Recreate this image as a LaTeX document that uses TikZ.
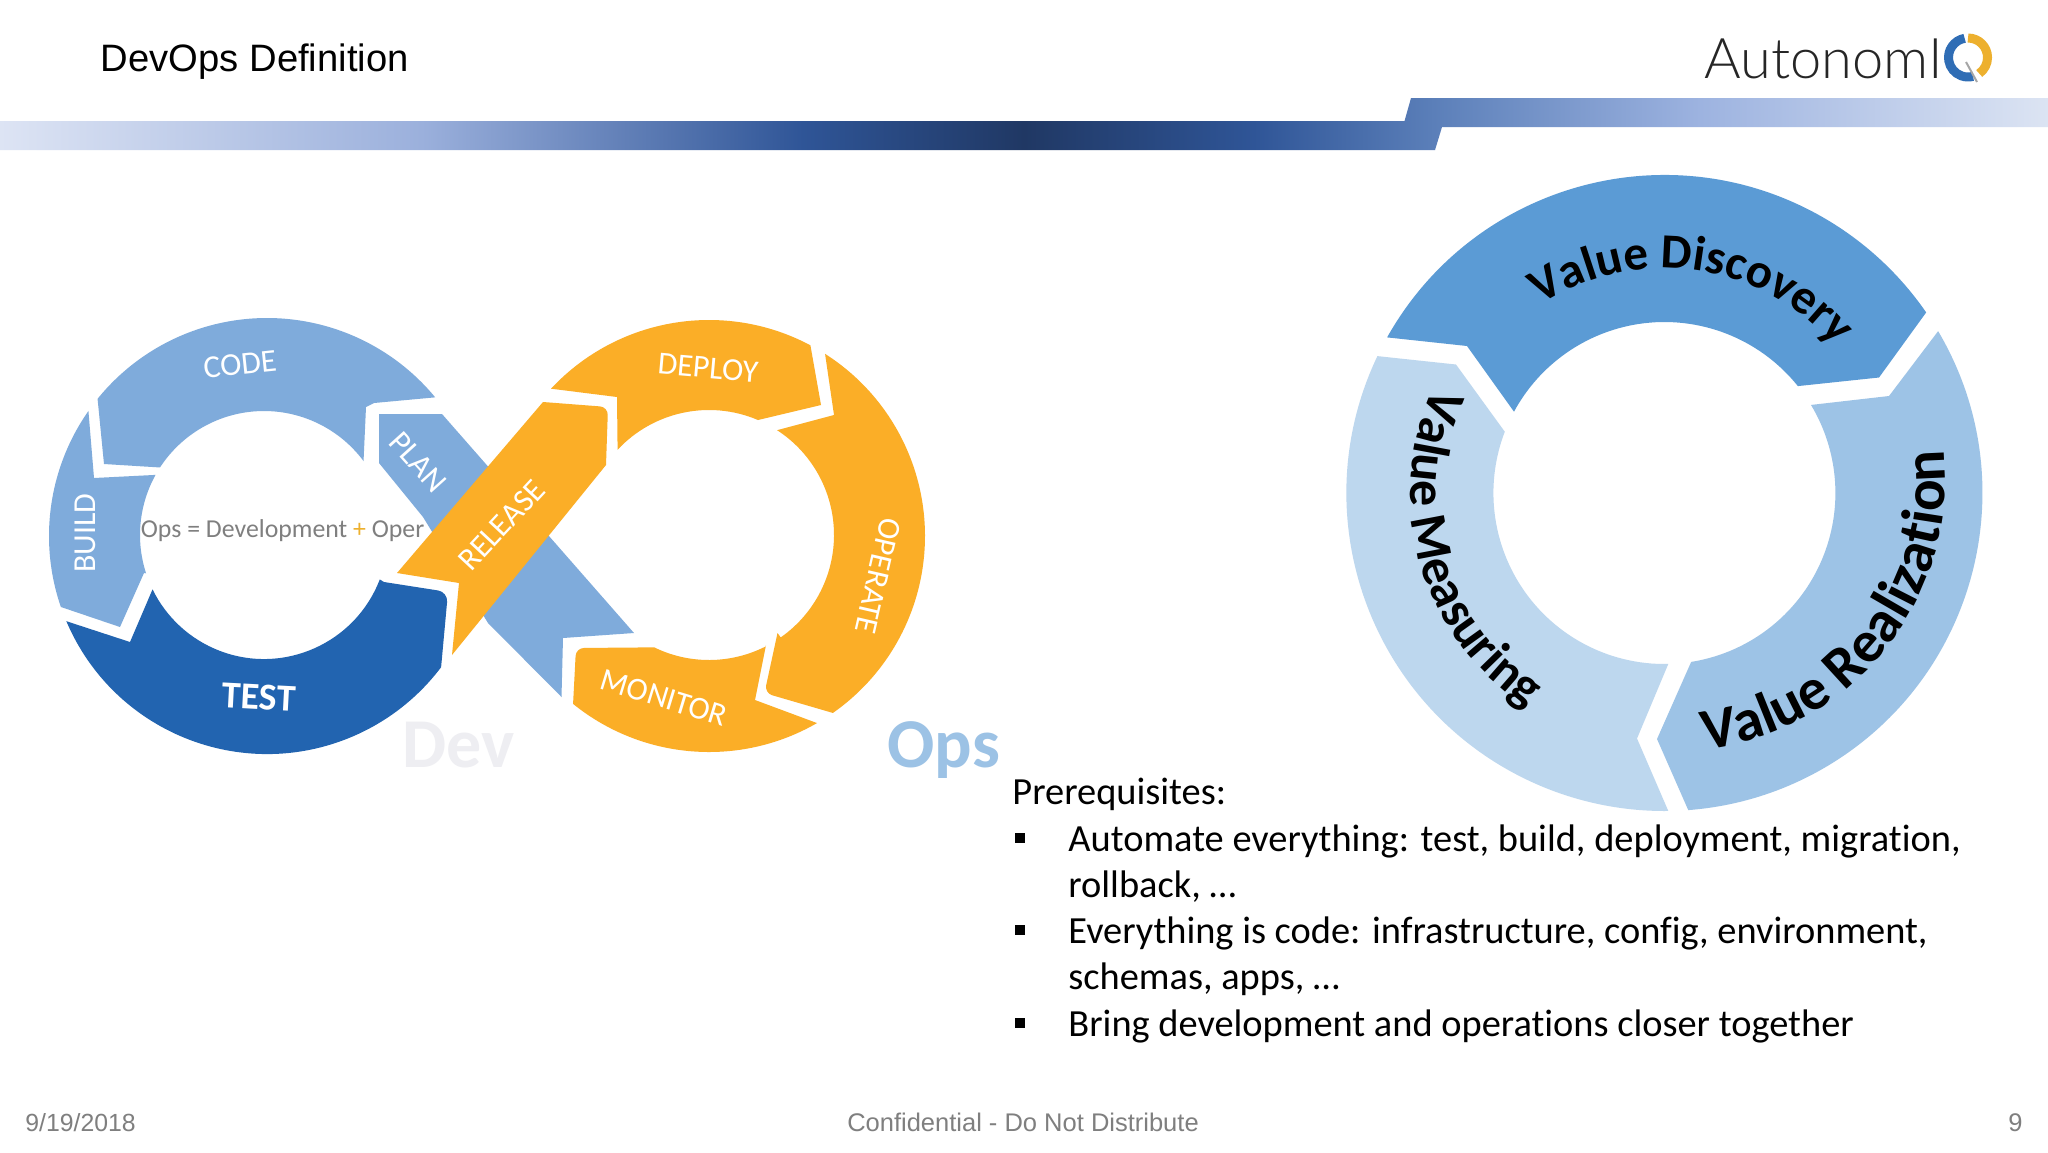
\documentclass[tikz,border=0pt]{standalone}
\usepackage{fontspec}
\setmainfont{Carlito}[Ligatures=CommonOff]
\newfontfamily\arialf{Liberation Sans}
\newfontfamily\logof{Lato Light}
\usetikzlibrary{calc,decorations.text}
\definecolor{barA}{HTML}{DDE4F4}
\definecolor{barB}{HTML}{9BB0DC}
\definecolor{barC}{HTML}{2F5597}
\definecolor{barD}{HTML}{203864}
\definecolor{barF}{HTML}{5B7FB9}
\definecolor{barG}{HTML}{9DB3E0}
\definecolor{barH}{HTML}{DCE4F3}
\definecolor{devlight}{HTML}{7FABDB}
\definecolor{devdark}{HTML}{2264B0}
\definecolor{opsorange}{HTML}{FBAE27}
\definecolor{opsblue}{HTML}{9CC2E5}
\definecolor{devgrey}{HTML}{EEEEF2}
\definecolor{ringA}{HTML}{5B9BD5}
\definecolor{ringB}{HTML}{9DC3E6}
\definecolor{ringC}{HTML}{BDD7EE}
\definecolor{footgrey}{HTML}{7F7F7F}
\definecolor{logoblue}{HTML}{2F6DB5}
\definecolor{logogold}{HTML}{EDB02E}
\pgfdeclarehorizontalshading{barshade}{100bp}{color(0bp)=(barA); color(25bp)=(barA); color(35.3bp)=(barB); color(44.6bp)=(barC); color(50bp)=(barD); color(55.6bp)=(barC); color(60bp)=(barF); color(66.5bp)=(barG); color(75bp)=(barH); color(100bp)=(barH)}
\newcommand{\vdfont}{\bfseries\fontsize{24.5}{24.5}\selectfont}
\newcommand{\vrfont}{\bfseries\fontsize{29.5}{29.5}\selectfont}
\newcommand{\vmfont}{\bfseries\fontsize{26}{26}\selectfont}
\tikzset{
  x=.5pt,y=.5pt,
  lbl/.style={text=white,inner sep=0pt,font=\fontsize{16}{16}\selectfont},
  foot/.style={text=footgrey,inner sep=0pt,anchor=base,font=\arialf\fontsize{12.75}{12.75}\selectfont},
  body/.style={inner sep=0pt,anchor=base west,font=\fontsize{19.2}{19.2}\selectfont},
  sq/.style={fill=black,inner sep=0pt,minimum size=5pt,rectangle},
  bigword/.style={inner sep=0pt,anchor=base west,font=\bfseries\fontsize{35}{35}\selectfont},
}
\begin{document}
\begin{tikzpicture}
\useasboundingbox (0,0) rectangle (2048,-1152);
\fill[white] (0,0) rectangle (2048,-1152);
\coordinate (L) at (267,-536);
\coordinate (LI) at (264,-535);
\coordinate (R) at (709,-536);
\coordinate (RI) at (709,-535);
\coordinate (V) at (1664.4,-493);

% header
\node[inner sep=0pt,anchor=base west,font=\arialf\fontsize{19.1}{19.1}\selectfont] (title) at (100.5,-71) {DevOps Definition};
\shade[shading=barshade] (0,-121) -- (1404.5,-121) -- (1411,-98) -- (2048,-98) -- (2048,-127) -- (1442,-127) -- (1435,-150) -- (0,-150) -- cycle;
\node[inner sep=0pt,anchor=base west,text=black!85,font=\logof\fontsize{28}{28}\selectfont] (logo) at (1704,-78) {AutonomI};
\draw[logoblue,line width=4.5pt] ($(1968,-57.5)+(100:9.75pt)$) arc[start angle=100,end angle=285,radius=9.75pt];
\draw[logogold,line width=4.5pt] ($(1968,-57.5)+(90:9.75pt)$) arc[start angle=90,end angle=-55,radius=9.75pt];
\draw[black!35,line width=1pt] (1966,-62) -- (1977,-82);

% infinity loop
\node[inner sep=0pt,anchor=base west,font=\fontsize{12.9}{12.9}\selectfont,text=footgrey] (ops) at (140.5,-537) {Ops = Development {\color{logogold}+} Oper};
\fill[devlight] ($(L)+(141:109pt)$) arc[start angle=141,end angle=39.5,radius=109pt] -- (374,-403) -- (366,-407) -- ($(LI)+(36.6:62pt)$) arc[start angle=36.6,end angle=147,radius=62pt] -- (104,-464) -- cycle;
\fill[devlight] ($(L)+(145:109pt)$) arc[start angle=145,end angle=199,radius=109pt] -- (120,-627) -- (144,-573) -- ($(LI)+(198:62pt)$) arc[start angle=198,end angle=151,radius=62pt] -- (94,-478) -- cycle;
\fill[devdark] ($(L)+(203:109pt)$) arc[start angle=203,end angle=323,radius=109pt] [rounded corners=5pt] -- (448,-592) [sharp corners] -- (384,-582) -- ($(LI)+(339:62pt)$) arc[start angle=339,end angle=206,radius=62pt] -- (130,-642) -- cycle;
\fill[devlight] (379,-414) -- (442,-414) -- (634,-633) -- (563,-638) -- (561.5,-697) -- (488,-623) -- (423,-517) -- (379,-463) -- cycle;
\fill[opsorange] (543,-402) [rounded corners=4pt] -- (608,-407) [sharp corners] -- (606,-465) -- (452,-655) -- (459,-583) -- (397,-573) -- cycle;
\fill[opsorange] ($(R)+(137:108pt)$) arc[start angle=137,end angle=62,radius=108pt] -- (821,-405) -- (758,-420) -- ($(RI)+(67:62.5pt)$) arc[start angle=67,end angle=137,radius=62.5pt] -- (617,-397) -- cycle;
\fill[opsorange] ($(R)+(57.5:108pt)$) arc[start angle=57.5,end angle=-55,radius=108pt] [rounded corners=4pt] -- (764.5,-693) [sharp corners] -- (777.5,-633) -- ($(RI)+(-55:62.5pt)$) arc[start angle=-55,end angle=57,radius=62.5pt] -- (834,-415) -- cycle;
\fill[opsorange] ($(R)+(231:108pt)$) arc[start angle=231,end angle=300,radius=108pt] -- (755,-700) -- (766,-645) -- ($(RI)+(297:62.5pt)$) arc[start angle=297,end angle=244,radius=62.5pt] [rounded corners=4pt] -- (576,-648) [sharp corners] -- cycle;
\node[lbl,rotate=6] (code) at (240,-364) {CODE};
\node[lbl,rotate=-5] (deploy) at (708,-368) {DEPLOY};
\node[lbl,rotate=-103] (operate) at (878,-576) {OPERATE};
\node[lbl,rotate=-17] (monitor) at (664,-698) {MONITOR};
\node[lbl,rotate=-3,font=\bfseries\fontsize{19}{19}\selectfont] (test) at (259,-697) {TEST};
\node[lbl,rotate=90] (build) at (85,-533) {BUILD};
\node[lbl,rotate=-48] (plan) at (418,-462) {PLAN};
\node[lbl,rotate=47] (release) at (501.5,-525) {RELEASE};
\node[bigword,text=devgrey] (dev) at (402,-767) {Dev};
\node[bigword,text=opsblue] (opsw) at (887,-767) {Ops};

% value ring
\fill[ringA] ($(V)+(150.7:159pt)$) arc[start angle=150.7,end angle=34.6,radius=159pt] -- (1879,-377.5) -- ($(V)+(38.7:85.5pt)$) arc[start angle=38.7,end angle=151.6,radius=85.5pt] -- (1467,-346) -- cycle;
\fill[ringB] ($(V)+(30.6:159pt)$) arc[start angle=30.6,end angle=-85.7,radius=159pt] -- (1657,-739) -- ($(V)+(-81:85.5pt)$) arc[start angle=-81,end angle=31,radius=85.5pt] -- (1889,-396) -- cycle;
\fill[ringC] ($(V)+(154.5:159pt)$) arc[start angle=154.5,end angle=270.7,radius=159pt] -- (1637,-738.5) -- ($(V)+(271.3:85.5pt)$) arc[start angle=271.3,end angle=159,radius=85.5pt] -- (1456,-364.5) -- cycle;
\path[shift={(V)},decorate,decoration={text along path,text align=center,text={|\vdfont|Value Discovery}}] (150:112.5pt) arc[start angle=150,end angle=14,radius=112.5pt];
\path[shift={(1671.4,-478)},decorate,decoration={text along path,text align=center,text={|\vrfont|Value Realization}}] (-108.5:137pt) arc[start angle=-108.5,end angle=31.5,radius=137pt];
\path[shift={(V)},decorate,decoration={text along path,text align=center,text={|\vmfont|Value Measuring}}] (126.4:127pt) arc[start angle=126.4,end angle=266.4,radius=127pt];

% text
\node[body] (pre) at (1012,-804) {Prerequisites:};
\node[body] (b1a) at (1068,-851) {Automate everything: test, build, deployment, migration,};
\node[body] (b1b) at (1068,-897) {rollback, …};
\node[body] (b2a) at (1068,-943) {Everything is code: infrastructure, config, environment,};
\node[body] (b2b) at (1068,-989) {schemas, apps, …};
\node[body] (b3a) at (1068,-1036) {Bring development and operations closer together};
\node[sq] (s1) at (1020,-838) {};
\node[sq] (s2) at (1020,-930) {};
\node[sq] (s3) at (1020,-1023) {};

% footer
\node[foot,anchor=base west,font=\arialf\fontsize{12.4}{12.4}\selectfont] (date) at (25,-1131) {9/19/2018};
\node[foot] (conf) at (1023,-1131) {Confidential - Do Not Distribute};
\node[foot,anchor=base east] (page) at (2023,-1131) {9};
\end{tikzpicture}
\end{document}
